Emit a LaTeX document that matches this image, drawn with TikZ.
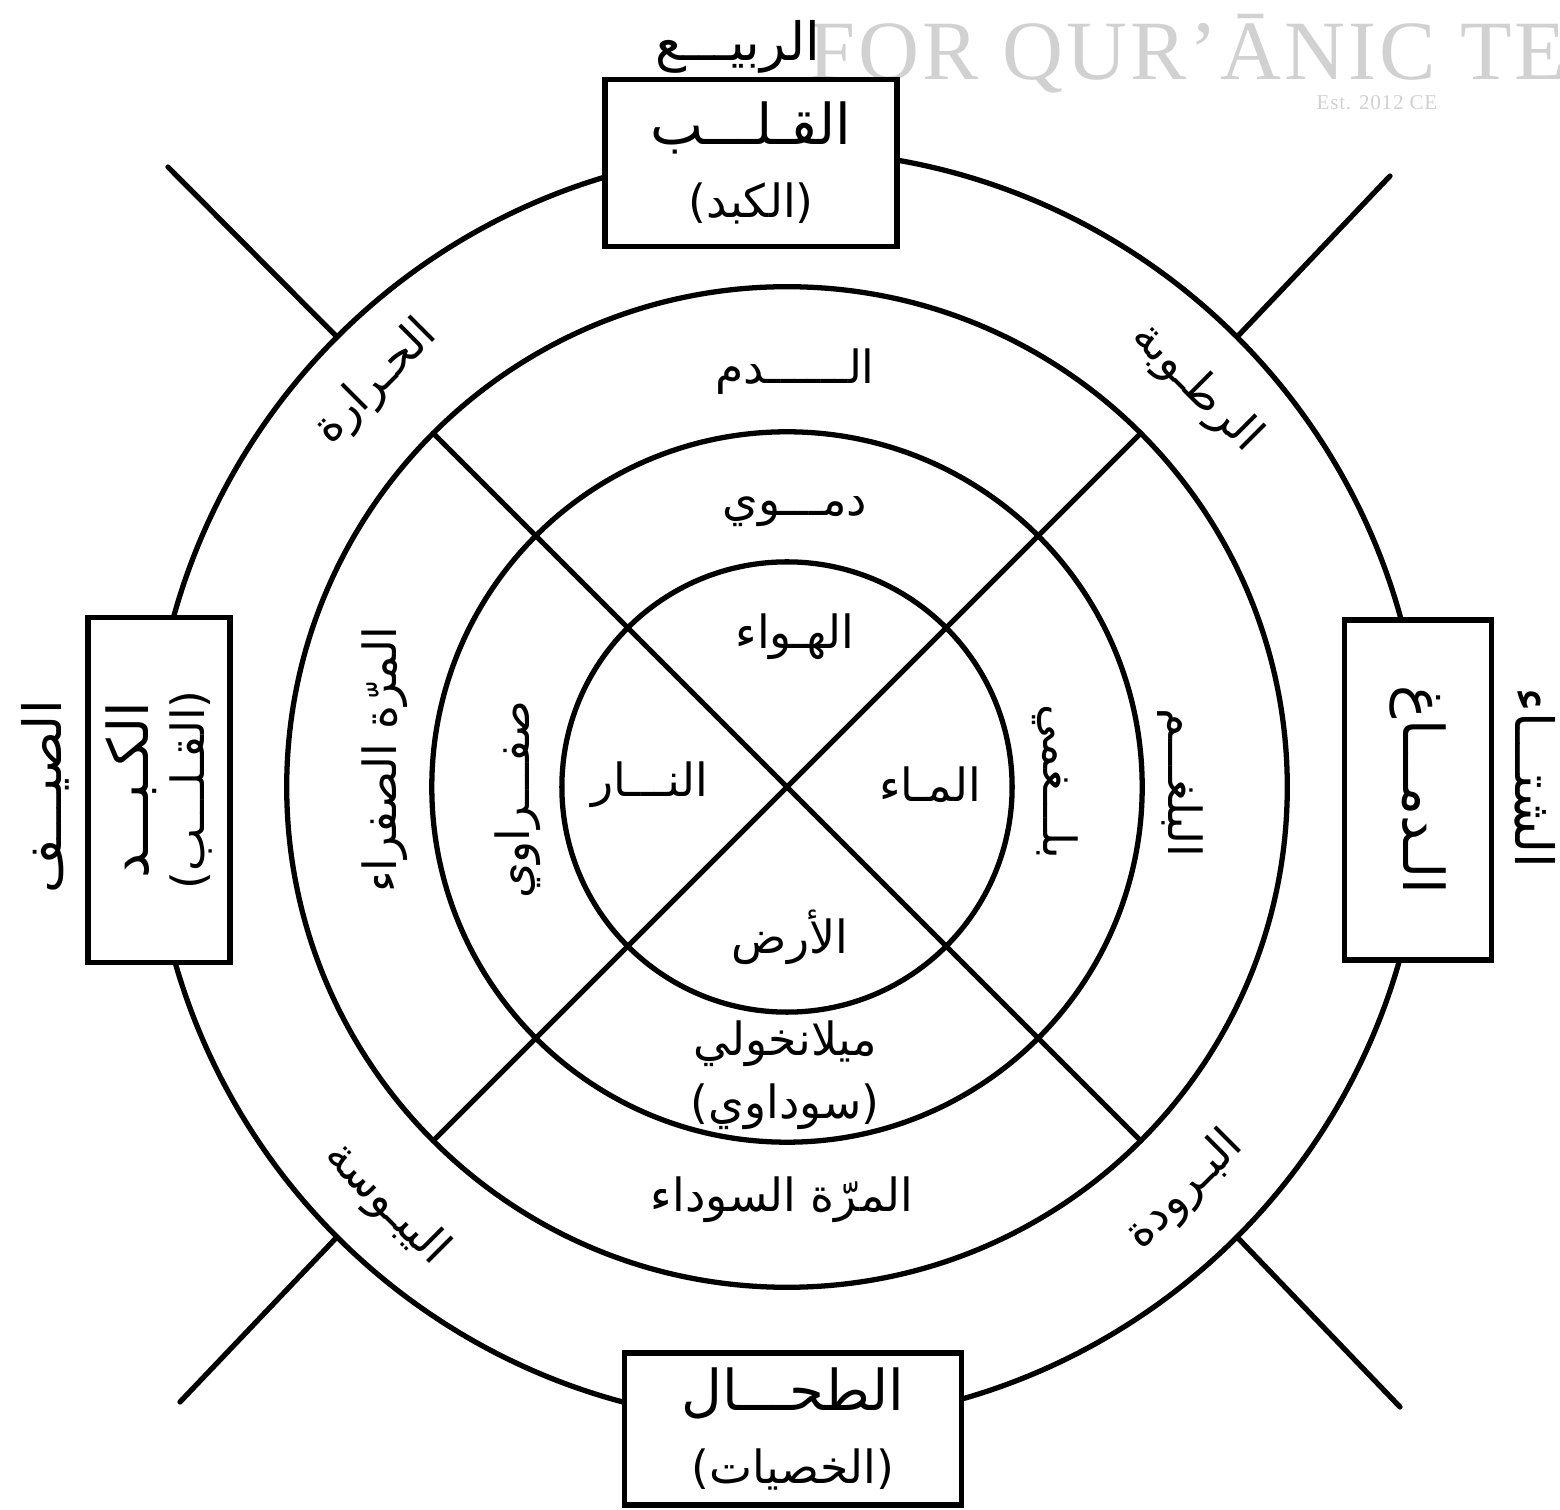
\documentclass[tikz,border=0pt]{standalone}
\usepackage{fontspec}
\newfontfamily\arabicfont[Script=Arabic]{DejaVu Sans}
\newfontfamily\wmfont[LetterSpace=3.5]{Liberation Serif}
\TeXXeTstate=1
\newcommand{\AR}[1]{{\arabicfont\beginR #1\endR}}
\newcommand{\arsz}{\fontsize{13}{16}\selectfont}
\newcommand{\arbig}{\fontsize{16}{19}\selectfont}
\begin{document}
\begin{tikzpicture}[x=0.01cm,y=-0.01cm,
  ring/.style={circle, draw, line width=1.5pt, inner sep=0pt, outer sep=0pt},
  edge/.style={line width=1.5pt, line cap=round},
  organ/.style={draw, fill=white, line width=1.5pt, inner sep=0pt, outer sep=0pt, align=center, font=\arbig},
  lbl/.style={inner sep=0pt, align=center, font=\arsz},
  season/.style={inner sep=0pt, align=center, font=\fontsize{15}{18}\selectfont}]
\useasboundingbox (0,0) rectangle (1560,1510);
\clip (0,0) rectangle (1560,1510);
% watermark
\node[anchor=base west, text=black!18, font=\wmfont\fontsize{24}{24}\selectfont, inner sep=0pt] (wm) at (808,80) {FOR QUR’ĀNIC TE};
\node[text=black!18, font=\wmfont\fontsize{6}{6}\selectfont, inner sep=0pt] (est) at (1377,103) {Est. 2012 CE};
% circles
\coordinate (c) at (787,787);
\node[ring, minimum size=12.72cm] (outer) at (c) {};
\node[ring, minimum size=10cm] (third) at (c) {};
\node[ring, minimum size=7.1cm] (second) at (c) {};
\node[ring, minimum size=4.5cm] (inner) at (c) {};
% cross
\draw[edge] (third.135) -- (third.-45);
\draw[edge] (third.45) -- (third.-135);
\coordinate (tl) at (168,167);
\coordinate (tr) at (1390,176);
\coordinate (bl) at (180,1402);
\coordinate (br) at (1400,1407);
\draw[edge] (outer.135) -- (tl);
\draw[edge] (outer.45) -- (tr);
\draw[edge] (outer.-135) -- (bl);
\draw[edge] (outer.-45) -- (br);
% organ boxes
\node[organ, minimum width=2.92cm, minimum height=1.67cm] (heart) at (751,163) {\AR{القـلـــب}\\[2pt]{\arsz\AR{(الكبد)}}};
\node[organ, rotate=90, minimum width=3.45cm, minimum height=1.42cm] (liver) at (159,790) {\AR{الكـبـــد}\\[-3pt]{\arsz\AR{(القـلـــب)}}};
\node[organ, rotate=-90, minimum width=3.40cm, minimum height=1.47cm] (brain) at (1418,790) {\AR{الـدمـــاغ}};
\node[organ, minimum width=3.37cm, minimum height=1.52cm] (spleen) at (793,1429) {\AR{الطحـــال}\\[2pt]{\arsz\AR{(الخصيات)}}};
% seasons
\node[season] (spring) at (738,47) {\AR{الربيـــع}};
\node[season, rotate=90] (summer) at (45,797) {\AR{الصيـــف}};
\node[season, rotate=-90] (winter) at (1535,778) {\AR{الشتـــاء}};
% elements
\node[lbl] (air) at (795,637) {\AR{الهـواء}};
\node[lbl] (fire) at (650,785) {\AR{النـــار}};
\node[lbl] (water) at (930,785) {\AR{المـاء}};
\node[lbl] (earth) at (790,937) {\AR{الأرض}};
% temperaments
\node[lbl] (sanguine) at (795,512) {\AR{دمـــوي}};
\node[lbl, rotate=90] (choleric) at (518,800) {\AR{صفـــراوي}};
\node[lbl, rotate=-90] (phlegmatic) at (1055,782) {\AR{بلـــغمي}};
\node[lbl] (melancholic) at (785,1075) {\AR{ميلانخولي}\\[2pt]\AR{(سوداوي)}};
% humours
\node[lbl] (blood) at (795,372) {\AR{الــــــدم}};
\node[lbl, rotate=90] (yellow) at (385,760) {\AR{المرّة الصفراء}};
\node[lbl, rotate=-90] (phlegm) at (1180,783) {\AR{البلغـــم}};
\node[lbl] (black) at (782,1200) {\AR{المرّة السوداء}};
% qualities
\node[lbl, rotate=45] (heat) at (376,383) {\AR{الحـرارة}};
\node[lbl, rotate=-45] (moist) at (1196,388) {\AR{الرطـوبة}};
\node[lbl, rotate=-45] (dry) at (386,1204) {\AR{اليبـوسة}};
\node[lbl, rotate=45] (cold) at (1185,1191) {\AR{البـرودة}};
\end{tikzpicture}
\end{document}
